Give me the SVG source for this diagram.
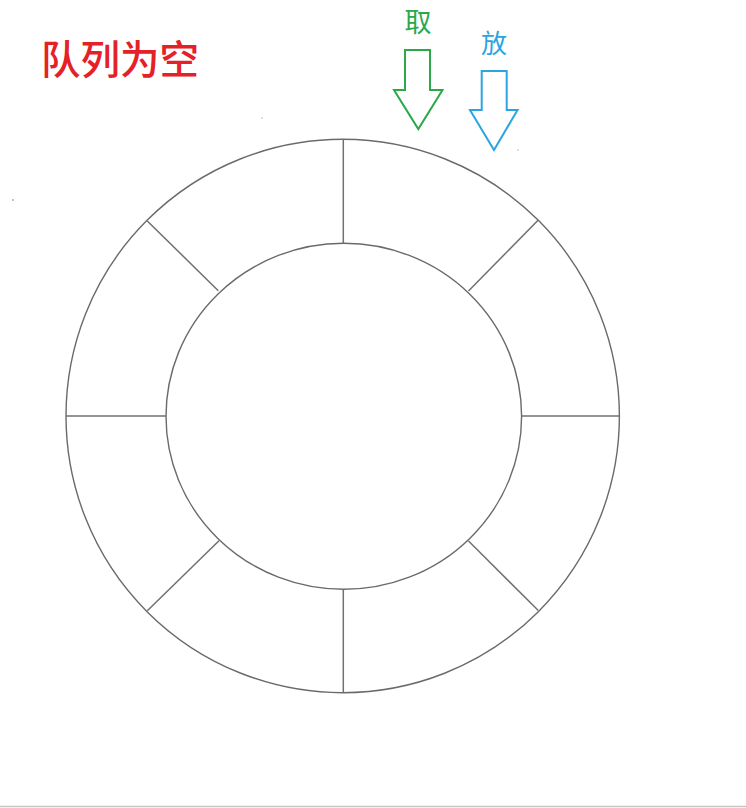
<svg xmlns="http://www.w3.org/2000/svg" width="746" height="808" viewBox="0 0 746 808">
<style>
.ring{fill:none;stroke:#6a6a6a;stroke-width:1.4}
.spoke{stroke:#707070;stroke-width:1.5}
.cjk{font-family:"Noto Sans CJK SC","Noto Sans CJK JP",sans-serif}
</style>
<rect width="746" height="808" fill="#ffffff"/>
<g id="title"><text class="cjk" x="41" y="74" font-size="39.5" font-weight="500" fill="#e52128">队列为空</text></g>
<g id="ring">
<ellipse class="ring" cx="342.7" cy="416" rx="276.7" ry="276.7"/>
<ellipse class="ring" cx="343.8" cy="416.3" rx="177.8" ry="173"/>
</g>
<g id="connectors">
<line class="spoke" x1="343.3" y1="139.3" x2="343.3" y2="243.3"/>
<line class="spoke" x1="538.3" y1="220" x2="468.5" y2="291"/>
<line class="spoke" x1="521.7" y1="416" x2="619.3" y2="416"/>
<line class="spoke" x1="468.5" y1="541" x2="538.3" y2="610.5"/>
<line class="spoke" x1="343.3" y1="589.3" x2="343.3" y2="692.7"/>
<line class="spoke" x1="219" y1="540.7" x2="147.3" y2="610.7"/>
<line class="spoke" x1="66" y1="416" x2="166" y2="416"/>
<line class="spoke" x1="147.3" y1="221" x2="218.3" y2="290.7"/>
</g>
<g id="take">
<text class="cjk" x="418" y="32" font-size="27" text-anchor="middle" fill="#2aa84a">取</text>
<polygon points="405,50 430,50 430,90 442.5,90 418.3,129 394,90 405,90" fill="#ffffff" stroke="#2aa84a" stroke-width="2"/>
</g>
<g id="put">
<text class="cjk" x="494" y="53" font-size="26" text-anchor="middle" fill="#2aa5e0">放</text>
<polygon points="481.7,71 506.7,71 506.7,110 517.5,110 494,150 470,110 481.7,110" fill="#ffffff" stroke="#2aa5e0" stroke-width="2"/>
</g>
<circle cx="13" cy="200" r="1" fill="#aaaaaa"/>
<circle cx="518" cy="150" r="0.8" fill="#bbbbbb"/>
<circle cx="262" cy="118" r="0.8" fill="#bbbbbb"/>
<line x1="0" y1="806.5" x2="746" y2="806.5" stroke="#c4c4c4" stroke-width="1.5"/>
</svg>
